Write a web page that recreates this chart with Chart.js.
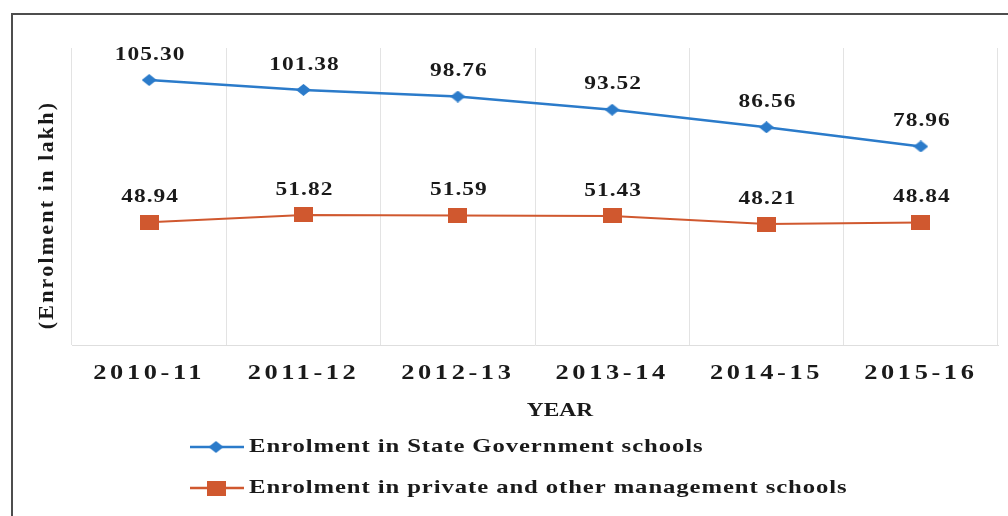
<!DOCTYPE html>
<html>
<head>
<meta charset="utf-8">
<script src="https://cdn.jsdelivr.net/npm/chart.js@4.4.1/dist/chart.umd.min.js"></script>
<style>
  html, body { margin: 0; padding: 0; background: #fff; }
</style>
</head>
<body>
<canvas id="chart" width="1008" height="516"></canvas>
<script>
// data
const years = ['2010-11', '2011-12', '2012-13', '2013-14', '2014-15', '2015-16'];
const stateGov = [105.30, 101.38, 98.76, 93.52, 86.56, 78.96];
const privateMgmt = [48.94, 51.82, 51.59, 51.43, 48.21, 48.84];
const seriesNames = ['Enrolment in State Government schools', 'Enrolment in private and other management schools'];
const xTitle = 'YEAR';
const yTitle = '(Enrolment in lakh)';

const blue = '#2b7bca';
const orange = '#d0582f';
const serif = '"Liberation Serif", "Times New Roman", serif';

// the original's lettering is stretched sideways, so text is drawn scaled in x
function wideText(ctx, text, x, y, sx) {
    ctx.save();
    ctx.translate(x, y);
    ctx.scale(sx, 1);
    ctx.fillText(text, 0, 0);
    ctx.restore();
}

// small canvases used as point markers (slightly wider than tall, like the original)
function marker(w, h, color, diamond) {
    const c = document.createElement('canvas');
    c.width = w;
    c.height = h;
    const g = c.getContext('2d');
    g.fillStyle = color;
    if (diamond) {
        g.beginPath();
        g.moveTo(w / 2, 0);
        g.lineTo(w, h / 2);
        g.lineTo(w / 2, h);
        g.lineTo(0, h / 2);
        g.closePath();
        g.fill();
    } else {
        g.fillRect(0, 0, w, h);
    }
    return c;
}
const diamondMark = marker(15, 12, blue, true);
const squareMark = marker(19, 15, orange, false);

const decor = {
    id: 'decor',
    beforeDraw(chart) {
        // widen and space out the year tick labels drawn by the x scale
        const ctx = chart.ctx;
        const fill = CanvasRenderingContext2D.prototype.fillText;
        ctx.letterSpacing = '3px';
        ctx.fillText = function (text, x, y) {
            this.save();
            this.translate(x, y);
            this.scale(1.2, 1);
            fill.call(this, text, 0, 0);
            this.restore();
        };
    },
    beforeDatasetsDraw(chart) {
        delete chart.ctx.fillText;
        chart.ctx.letterSpacing = '0px';
    },
    afterDatasetsDraw(chart) {
        const ctx = chart.ctx;
        ctx.save();
        ctx.font = 'bold 18px ' + serif;
        ctx.letterSpacing = '0.8px';
        ctx.fillStyle = '#1a1a1a';
        ctx.textAlign = 'center';
        ctx.textBaseline = 'middle';
        chart.data.datasets.forEach((ds, i) => {
            chart.getDatasetMeta(i).data.forEach((pt, j) => {
                wideText(ctx, ds.data[j].toFixed(2), pt.x + 1, pt.y - 25, 1.3);
            });
        });
        ctx.restore();
    },
    afterDraw(chart) {
        const ctx = chart.ctx;
        ctx.save();

        // outer frame
        ctx.strokeStyle = '#4d4d4d';
        ctx.lineWidth = 2;
        ctx.beginPath();
        ctx.moveTo(12, 516);
        ctx.lineTo(12, 14);
        ctx.lineTo(1008, 14);
        ctx.stroke();

        ctx.fillStyle = '#1a1a1a';
        ctx.textBaseline = 'middle';

        // x title
        ctx.font = 'bold 18px ' + serif;
        ctx.letterSpacing = '0px';
        ctx.textAlign = 'center';
        wideText(ctx, xTitle, 560, 411, 1.3);

        // y title
        ctx.save();
        ctx.font = 'bold 22px ' + serif;
        ctx.translate(47, 215);
        ctx.rotate(-Math.PI / 2);
        ctx.letterSpacing = '2.2px';
        ctx.fillText(yTitle, 0, 0);
        ctx.restore();

        // legend
        const rows = [
            { name: seriesNames[0], color: blue, mark: diamondMark, y: 447 },
            { name: seriesNames[1], color: orange, mark: squareMark, y: 488 }
        ];
        ctx.font = 'bold 19px ' + serif;
        ctx.letterSpacing = '0.7px';
        ctx.textAlign = 'left';
        rows.forEach(r => {
            ctx.strokeStyle = r.color;
            ctx.lineWidth = 2.5;
            ctx.beginPath();
            ctx.moveTo(190, r.y);
            ctx.lineTo(244, r.y);
            ctx.stroke();
            ctx.drawImage(r.mark, 216 - r.mark.width / 2, r.y - r.mark.height / 2);
            wideText(ctx, r.name, 249, r.y, 1.3);
        });

        ctx.restore();
    }
};

new Chart(document.getElementById('chart'), {
    type: 'line',
    data: {
        labels: years,
        datasets: [{
            label: seriesNames[0],
            data: stateGov,
            borderColor: blue,
            borderWidth: 2.5,
            pointStyle: diamondMark,
            pointRadius: 7,
            tension: 0
        }, {
            label: seriesNames[1],
            data: privateMgmt,
            borderColor: orange,
            borderWidth: 2,
            pointStyle: squareMark,
            pointRadius: 8,
            tension: 0
        }]
    },
    options: {
        responsive: false,
        animation: false,
        layout: {
            padding: { left: 72, right: 10, top: 48, bottom: 114 }
        },
        plugins: {
            legend: { display: false },
            tooltip: { enabled: false }
        },
        scales: {
            x: {
                offset: true,
                grid: { offset: true, color: '#e3e3e3', drawTicks: false },
                border: { color: '#dedede' },
                ticks: {
                    padding: 15,
                    color: '#1a1a1a',
                    maxRotation: 0,
                    autoSkip: false,
                    font: { family: serif, size: 22, weight: 'bold' }
                }
            },
            y: {
                display: false,
                min: 0,
                max: 118
            }
        }
    },
    plugins: [decor]
});
</script>
</body>
</html>
